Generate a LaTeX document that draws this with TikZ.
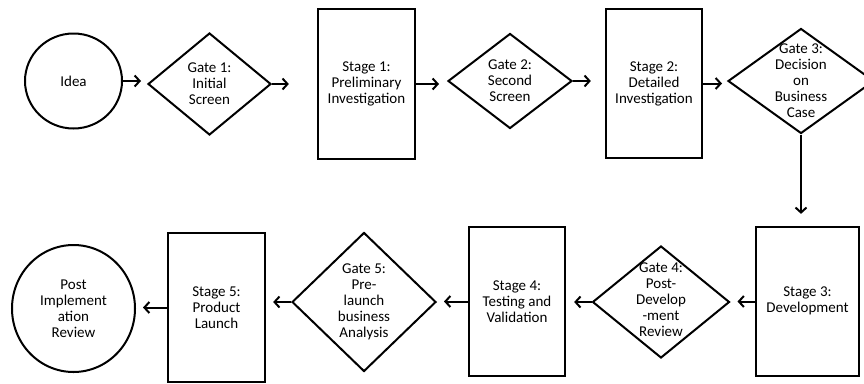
\documentclass[tikz,border=0pt]{standalone}
\usepackage{fontspec}
\setmainfont{Carlito}
\usetikzlibrary{shapes.geometric,arrows.meta}
\tikzset{
  stagebox/.style={draw=black,line width=2.3pt,rectangle,inner sep=0pt},
  gatebox/.style={draw=black,line width=2pt,diamond,inner sep=0pt},
  roundbox/.style={draw=black,line width=2pt,ellipse,inner sep=0pt},
  txt/.style={align=center,font=\fontsize{15}{16}\selectfont,inner sep=0pt},
  arr/.style={line width=2pt,-{Straight Barb[length=5pt,width=11pt,line width=2pt]}}
}
\begin{document}
\begin{tikzpicture}[x=1pt,y=-1pt]
\useasboundingbox[fill=white] (0,0) rectangle (864,383);
% top row
\node[roundbox,minimum width=97,minimum height=95] (idea) at (73.5,81) {};
\node[txt] (ideat) at (idea.center) {Idea};
\node[gatebox,minimum width=123,minimum height=102] (g1) at (209.5,84) {};
\node[txt] (g1t) at (g1.center) {Gate 1:\\Initial\\Screen};
\node[stagebox,minimum width=97,minimum height=150] (s1) at (366.5,84) {};
\node[txt] (s1t) at (s1.center) {Stage 1:\\Preliminary\\Investigation};
\node[gatebox,minimum width=124,minimum height=95] (g2) at (510,81) {};
\node[txt] (g2t) at (g2.center) {Gate 2:\\Second\\Screen};
\node[stagebox,minimum width=96,minimum height=149] (s2) at (654,83.5) {};
\node[txt] (s2t) at (s2.center) {Stage 2:\\Detailed\\Investigation};
\node[gatebox,minimum width=146,minimum height=105] (g3) at (801,81) {};
\node[txt] (g3t) at (g3.center) {Gate 3:\\Decision\\on\\Business\\Case};
% bottom row
\node[stagebox,minimum width=103,minimum height=149] (s3) at (807.5,301.5) {};
\node[txt] (s3t) at ([yshift=1]s3.center) {Stage 3:\\Development};
\node[gatebox,minimum width=137,minimum height=112] (g4) at (661,302) {};
\node[txt] (g4t) at ([yshift=2]g4.center) {Gate 4:\\Post-\\Develop\\-ment\\Review};
\node[stagebox,minimum width=96,minimum height=149] (s4) at (517,301.5) {};
\node[txt] (s4t) at (s4.center) {Stage 4:\\Testing and\\Validation};
\node[gatebox,minimum width=144,minimum height=139] (g5) at (364,302) {};
\node[txt] (g5t) at (g5.center) {Gate 5:\\Pre-\\launch\\business\\Analysis};
\node[stagebox,minimum width=97,minimum height=149] (s5) at (216.5,307.5) {};
\node[txt] (s5t) at (s5.center) {Stage 5:\\Product\\Launch};
\node[roundbox,minimum width=123,minimum height=127] (post) at (73.5,308.5) {};
\node[txt] (postt) at (post.center) {Post\\Implement\\ation\\Review};
% connectors
\draw[arr,shorten >=6pt] (idea.east) -- (idea.east -| g1.west);
\draw[arr,shorten >=28pt] (g1.east) -- (g1.east -| s1.west);
\draw[arr,shorten >=8pt] (s1.east) -- (s1.east -| g2.west);
\draw[arr,shorten >=14pt] (g2.east) -- (g2.east -| s2.west);
\draw[arr,shorten >=5pt] (s2.east) -- (s2.east -| g3.west);
\draw[arr,shorten >=12pt] (g3.south) -- (g3.south |- s3.north);
\draw[arr,shorten >=7pt] (s3.west) -- (s3.west -| g4.east);
\draw[arr,shorten >=8pt] (g4.west) -- (g4.west -| s4.east);
\draw[arr,shorten >=7pt] (s4.west) -- (s4.west -| g5.east);
\draw[arr,shorten >=7pt] (g5.west) -- (g5.west -| s5.east);
\draw[arr,shorten >=7pt] (s5.west) -- (s5.west -| post.east);
\end{tikzpicture}
\end{document}
